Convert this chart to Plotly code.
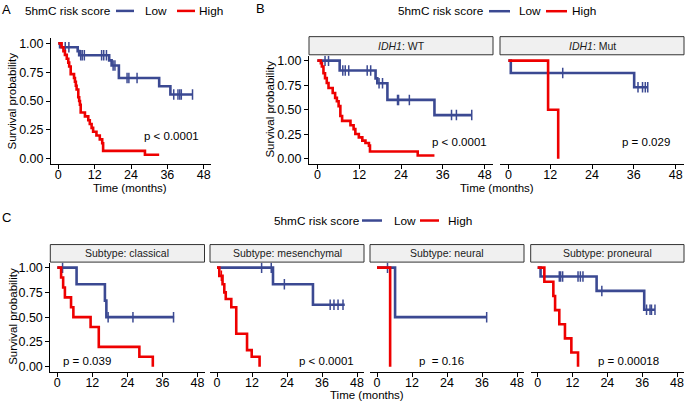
import plotly.graph_objects as go

W, H = 685, 404
BLUE = "#3B4992"
RED = "#EE0000"
FONT = "Liberation Sans, Arial, Helvetica, sans-serif"

# ---------------- data (months, survival probability) ----------------
# Panel A: all patients
A_low_time = [0, 0.6, 6.4, 6.9, 16.8, 17.6, 20.0, 33.3, 37.0]
A_low_surv = [1, 0.967, 0.933, 0.897, 0.853, 0.808, 0.70, 0.628, 0.557]
A_low_end = 44.3
A_low_censor = [2.3, 3.5, 7.4, 7.9, 8.6, 14.3, 15.0, 15.9, 18.1, 18.7, 22.7, 23.3, 26.0,
                38.1, 39.5, 40.1, 40.6, 44.3]
A_high_time = [0, 1.1, 1.7, 2.2, 2.8, 3.3, 3.6, 4.1, 5.2, 5.5, 5.8, 6.05, 6.6, 6.9, 7.15,
               7.4, 8.8, 9.9, 10.4, 11.0, 11.5, 12.6, 13.7, 14.5, 14.8, 28.6]
A_high_surv = [1, 0.967, 0.933, 0.9, 0.867, 0.833, 0.8, 0.733, 0.7, 0.667, 0.633, 0.6,
               0.533, 0.5, 0.467, 0.4, 0.367, 0.333, 0.3, 0.267, 0.233, 0.2, 0.167, 0.133,
               0.067, 0.033]
A_high_end = 33.3
A_high_censor = []

# Panel B: IDH1 WT
Bwt_low_time = [0, 6.4, 16.7, 17.2, 20.1, 33.6]
Bwt_low_surv = [1, 0.9, 0.82, 0.77, 0.6, 0.445]
Bwt_low_end = 44.3
Bwt_low_censor = [2.2, 3.2, 7.3, 8.0, 9.0, 14.3, 15.3, 17.7, 18.7, 23.0, 23.3, 26.4,
                  38.5, 39.9, 44.3]
Bwt_high_time = [0, 1.0, 1.3, 1.75, 2.2, 2.7, 3.2, 4.4, 5.1, 5.6, 6.1, 6.6, 7.1, 9.5,
                 10.4, 10.9, 11.9, 12.9, 13.8, 14.8, 15.1, 28.8]
Bwt_high_surv = [1, 0.973, 0.94, 0.872, 0.822, 0.772, 0.721, 0.671, 0.621, 0.587, 0.537,
                 0.436, 0.386, 0.342, 0.302, 0.252, 0.218, 0.185, 0.161, 0.134, 0.074, 0.034]
Bwt_high_end = 33.6
Bwt_high_censor = []

# Panel B: IDH1 Mut
Bmut_low_time = [0, 0.7, 36.1]
Bmut_low_surv = [1, 0.875, 0.729]
Bmut_low_end = 40.0
Bmut_low_censor = [15.6, 37.2, 38.5, 39.3, 40.0]
Bmut_high_time = [0, 11.4, 14.3]
Bmut_high_surv = [1, 0.5, 0]
Bmut_high_end = 14.3
Bmut_high_censor = []

# Panel C: subtypes
Ccla_low_time = [0, 6.6, 16.3, 16.8]
Ccla_low_surv = [1, 0.833, 0.667, 0.5]
Ccla_low_end = 40.0
Ccla_low_censor = [1.8, 17.4, 25.9, 39.8]
Ccla_high_time = [0, 1.3, 2.0, 2.6, 4.7, 5.5, 11.4, 14.2, 28.1, 32.7]
Ccla_high_surv = [1, 0.9, 0.8, 0.7, 0.6, 0.5, 0.4, 0.2, 0.1, 0]
Ccla_high_end = 32.7
Ccla_high_censor = []

Cmes_low_time = [0, 19.2, 32.9]
Cmes_low_surv = [1, 0.833, 0.625]
Cmes_low_end = 43.8
Cmes_low_censor = [15.3, 18.6, 23.1, 38.8, 40.1, 41.5, 43.2]
Cmes_high_time = [0, 0.8, 1.9, 2.5, 3.0, 4.9, 6.6, 10.3, 11.9, 14.6]
Cmes_high_surv = [1, 0.917, 0.833, 0.75, 0.683, 0.6, 0.333, 0.167, 0.1, 0]
Cmes_high_end = 14.6
Cmes_high_censor = [1.5]

Cneu_low_time = [0, 6.2]
Cneu_low_surv = [1, 0.5]
Cneu_low_end = 37.6
Cneu_low_censor = [3.6, 37.6]
Cneu_high_time = [0, 4.5]
Cneu_high_surv = [1, 0]
Cneu_high_end = 4.5
Cneu_high_censor = []

Cpro_low_time = [0, 1.0, 20.3, 36.7]
Cpro_low_surv = [1, 0.91, 0.765, 0.575]
Cpro_low_end = 40.4
Cpro_low_censor = [7.45, 7.9, 8.6, 13.9, 14.7, 15.6, 22.1, 37.5, 38.7, 39.2, 40.4]
Cpro_high_time = [0, 2.3, 5.4, 6.0, 7.45, 9.4, 11.6, 13.9]
Cpro_high_surv = [1, 0.857, 0.714, 0.571, 0.429, 0.286, 0.143, 0]
Cpro_high_end = 13.9
Cpro_high_censor = []

x_ticks = [0, 12, 24, 36, 48]
y_ticks = [0, 0.25, 0.5, 0.75, 1.0]
legend_title = "5hmC risk score"
group_labels = ["Low", "High"]
strip_B = ["<i>IDH1</i>: WT", "<i>IDH1</i>: Mut"]
strip_C = ["Subtype: classical", "Subtype: mesenchymal", "Subtype: neural", "Subtype: proneural"]
pvals_A = ["p < 0.0001"]
pvals_B = ["p < 0.0001", "p = 0.029"]
pvals_C = ["p = 0.039", "p < 0.0001", "p  = 0.16", "p = 0.00018"]

TICK = 12.5
TXT = 11.5
LEG = 11.8
STRIP = 10.5


# ---------------- helpers ----------------
def X(px):
    return px / W


def Y(py):
    return 1 - py / H


def surv_at(times, surv, t):
    s = surv[0]
    for ti, si in zip(times, surv):
        if ti <= t:
            s = si
    return s


fig = go.Figure()

panels = [
    dict(xd=(51, 211), yd=(36, 164), showy=True,
         low=(A_low_time, A_low_surv, A_low_end, A_low_censor),
         high=(A_high_time, A_high_surv, A_high_end, A_high_censor),
         p=pvals_A[0], pp=(171.5, 135)),
    dict(xd=(309, 493), yd=(54.3, 163.3), showy=True,
         low=(Bwt_low_time, Bwt_low_surv, Bwt_low_end, Bwt_low_censor),
         high=(Bwt_high_time, Bwt_high_surv, Bwt_high_end, Bwt_high_censor),
         p=pvals_B[0], pp=(459, 141), strip=strip_B[0], sy=(35, 53.3)),
    dict(xd=(500, 684), yd=(54.3, 163.3), showy=False,
         low=(Bmut_low_time, Bmut_low_surv, Bmut_low_end, Bmut_low_censor),
         high=(Bmut_high_time, Bmut_high_surv, Bmut_high_end, Bmut_high_censor),
         p=pvals_B[1], pp=(645.5, 141), strip=strip_B[1], sy=(35, 53.3)),
    dict(xd=(50.3, 204.5), yd=(263.3, 373.3), showy=True,
         low=(Ccla_low_time, Ccla_low_surv, Ccla_low_end, Ccla_low_censor),
         high=(Ccla_high_time, Ccla_high_surv, Ccla_high_end, Ccla_high_censor),
         p=pvals_C[0], pp=(87, 362.7), strip=strip_C[0], sy=(245, 262.7)),
    dict(xd=(210, 364), yd=(263.3, 373.3), showy=False,
         low=(Cmes_low_time, Cmes_low_surv, Cmes_low_end, Cmes_low_censor),
         high=(Cmes_high_time, Cmes_high_surv, Cmes_high_end, Cmes_high_censor),
         p=pvals_C[1], pp=(326.5, 362.7), strip=strip_C[1], sy=(245, 262.7)),
    dict(xd=(370, 524), yd=(263.3, 373.3), showy=False,
         low=(Cneu_low_time, Cneu_low_surv, Cneu_low_end, Cneu_low_censor),
         high=(Cneu_high_time, Cneu_high_surv, Cneu_high_end, Cneu_high_censor),
         p=pvals_C[2], pp=(441.7, 362.7), strip=strip_C[2], sy=(245, 262.7)),
    dict(xd=(530.7, 684), yd=(263.3, 373.3), showy=False,
         low=(Cpro_low_time, Cpro_low_surv, Cpro_low_end, Cpro_low_censor),
         high=(Cpro_high_time, Cpro_high_surv, Cpro_high_end, Cpro_high_censor),
         p=pvals_C[3], pp=(628.7, 362.7), strip=strip_C[3], sy=(245, 262.7)),
]

layout = dict(
    width=W, height=H, margin=dict(l=0, r=0, t=0, b=0),
    paper_bgcolor="white", plot_bgcolor="white", showlegend=False,
    font=dict(family=FONT, size=TXT, color="black"),
)
annotations = []
shapes = []

for i, pnl in enumerate(panels):
    k = "" if i == 0 else str(i + 1)
    xa, ya = "x" + k, "y" + k
    layout["xaxis" + k] = dict(
        domain=[X(pnl["xd"][0]), X(pnl["xd"][1])], range=[-2.4, 50.4],
        anchor=ya, tickvals=x_ticks, ticktext=[str(v) for v in x_ticks],
        showline=True, linecolor="black", linewidth=1, ticks="outside",
        ticklen=4, tickwidth=1, tickcolor="black", showgrid=False, zeroline=False,
        ticklabelstandoff=-5,
        tickfont=dict(size=TICK, color="black", family=FONT), fixedrange=True,
    )
    layout["yaxis" + k] = dict(
        domain=[Y(pnl["yd"][1]), Y(pnl["yd"][0])], range=[-0.05, 1.05],
        anchor=xa, tickvals=y_ticks, tickformat=".2f",
        showline=pnl["showy"], linecolor="black", linewidth=1,
        ticks="outside" if pnl["showy"] else "", ticklen=4, tickwidth=1, tickcolor="black",
        showticklabels=pnl["showy"], showgrid=False, zeroline=False,
        tickfont=dict(size=TICK, color="black", family=FONT), fixedrange=True,
    )
    for key, col in (("low", BLUE), ("high", RED)):
        t, s, end, cens = pnl[key]
        fig.add_trace(go.Scatter(
            x=list(t) + [end], y=list(s) + [s[-1]], mode="lines",
            line=dict(color=col, width=2.6, shape="hv"), xaxis=xa, yaxis=ya,
            hoverinfo="skip"))
        if cens:
            fig.add_trace(go.Scatter(
                x=cens, y=[surv_at(t, s, c) for c in cens], mode="markers",
                marker=dict(symbol="line-ns", size=7.5,
                            line=dict(color=col, width=1.5)),
                xaxis=xa, yaxis=ya, hoverinfo="skip"))
    annotations.append(dict(text=pnl["p"], x=X(pnl["pp"][0]), y=Y(pnl["pp"][1]),
                            xref="paper", yref="paper", showarrow=False,
                            xanchor="center", yanchor="middle",
                            font=dict(size=TXT, family=FONT, color="black")))
    if "strip" in pnl:
        x0, x1 = pnl["xd"]
        y0, y1 = pnl["sy"]
        shapes.append(dict(type="rect", xref="paper", yref="paper",
                           x0=X(x0), x1=X(x1), y0=Y(y1), y1=Y(y0),
                           fillcolor="#F0F0F0", line=dict(color="#333333", width=1)))
        annotations.append(dict(text=pnl["strip"], x=X((x0 + x1) / 2), y=Y((y0 + y1) / 2),
                                xref="paper", yref="paper", showarrow=False,
                                xanchor="center", yanchor="middle",
                                font=dict(size=STRIP, family=FONT, color="#1A1A1A")))


def text(t, x, y, size=TXT, angle=0, anchor="center"):
    annotations.append(dict(text=t, x=X(x), y=Y(y), xref="paper", yref="paper",
                            showarrow=False, xanchor=anchor, yanchor="middle",
                            textangle=angle,
                            font=dict(size=size, family=FONT, color="black")))


# panel letters
text("A", 0, 8, size=13, anchor="left")
text("B", 254, 7, size=13, anchor="left")
text("C", 0, 218, size=13, anchor="left")

# axis titles
text("Survival probability", 12.5, 100, angle=-90)
text("Survival probability", 270, 108.7, angle=-90)
text("Survival probability", 13, 318, angle=-90)
text("Time (months)", 130, 188)
text("Time (months)", 496.5, 188)
text("Time (months)", 367, 397)


# legends
def legend(title_left, y, key1, low_left, key2, high_left):
    text(legend_title, title_left, y, size=LEG, anchor="left")
    shapes.append(dict(type="line", xref="paper", yref="paper", x0=X(key1[0]), x1=X(key1[1]),
                       y0=Y(y), y1=Y(y), line=dict(color=BLUE, width=2.5)))
    text(group_labels[0], low_left, y, size=LEG, anchor="left")
    shapes.append(dict(type="line", xref="paper", yref="paper", x0=X(key2[0]), x1=X(key2[1]),
                       y0=Y(y), y1=Y(y), line=dict(color=RED, width=2.5)))
    text(group_labels[1], high_left, y, size=LEG, anchor="left")


legend(23, 9, (116, 134), 143, (177, 195), 197)
legend(396, 9.3, (489, 510), 517, (546, 567), 570)
legend(272, 220.7, (362, 382), 392, (420, 439), 446)

layout["annotations"] = annotations
layout["shapes"] = shapes
fig.update_layout(**layout)
fig.write_html("out.html", config={"displayModeBar": False},
               post_script="document.body.style.margin='0px';document.body.style.overflow='hidden';")
